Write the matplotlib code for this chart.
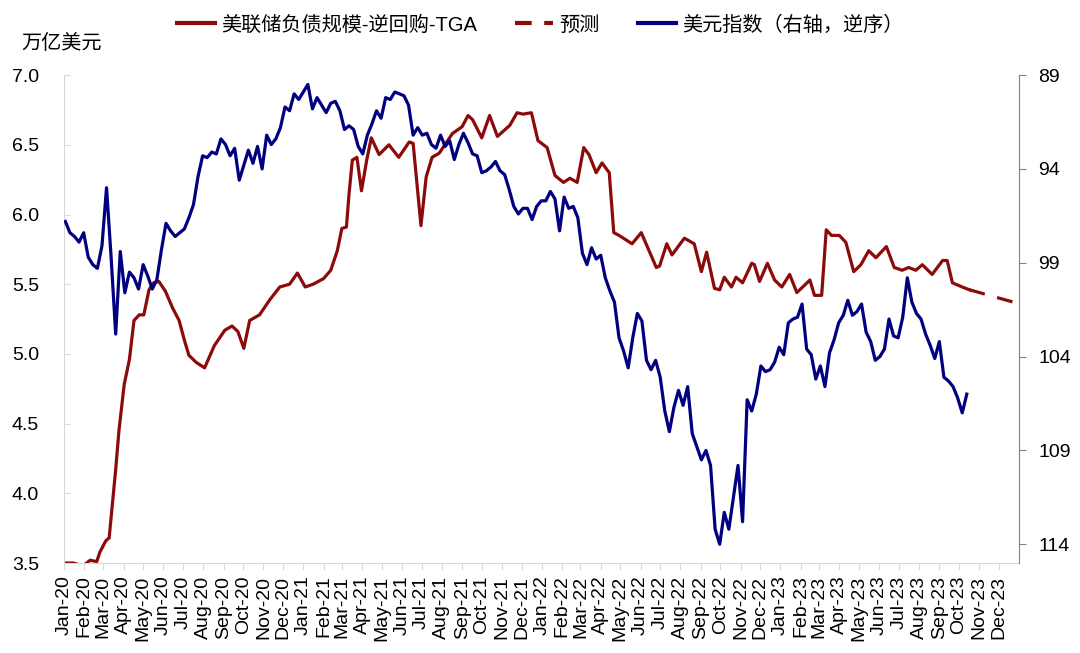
import pandas as pd
import matplotlib
matplotlib.use("Agg")
import matplotlib.pyplot as plt
import matplotlib.dates as mdates
from matplotlib.lines import Line2D

plt.rcParams["font.family"] = ["Liberation Sans", "Noto Sans CJK SC", "DejaVu Sans"]

RED = "#8B0A0A"
BLUE = "#000080"

# Fed balance sheet - RRP - TGA (trillion USD)
liq_dates = [
    "2020-01-03", "2020-01-15", "2020-01-30", "2020-02-10", "2020-02-20", "2020-02-25",
    "2020-03-05", "2020-03-10", "2020-03-20", "2020-03-25", "2020-04-02", "2020-04-10",
    "2020-04-17", "2020-04-25", "2020-05-02", "2020-05-10", "2020-05-17", "2020-05-25",
    "2020-06-04", "2020-06-15", "2020-06-25", "2020-07-03", "2020-07-10", "2020-07-21",
    "2020-08-03", "2020-08-18", "2020-09-03", "2020-09-14", "2020-09-23", "2020-10-02",
    "2020-10-11", "2020-10-26", "2020-11-11", "2020-11-26", "2020-12-11", "2020-12-23",
    "2021-01-04", "2021-01-16", "2021-02-01", "2021-02-12", "2021-02-22", "2021-03-01",
    "2021-03-08", "2021-03-12", "2021-03-17", "2021-03-24", "2021-03-31", "2021-04-08",
    "2021-04-15", "2021-04-27", "2021-05-12", "2021-05-27", "2021-06-12", "2021-06-18",
    "2021-06-30", "2021-07-08", "2021-07-17", "2021-07-28", "2021-08-17", "2021-09-01",
    "2021-09-10", "2021-09-17", "2021-10-01", "2021-10-13", "2021-10-25", "2021-11-13",
    "2021-11-24", "2021-12-03", "2021-12-16", "2021-12-26", "2022-01-09", "2022-01-21",
    "2022-02-03", "2022-02-13", "2022-02-24", "2022-03-06", "2022-03-14", "2022-03-25",
    "2022-04-03", "2022-04-14", "2022-04-21", "2022-04-29", "2022-05-19", "2022-06-02",
    "2022-06-25", "2022-06-30", "2022-07-11", "2022-07-19", "2022-08-07", "2022-08-22",
    "2022-09-02", "2022-09-10", "2022-09-22", "2022-09-30", "2022-10-07", "2022-10-18",
    "2022-10-25", "2022-11-04", "2022-11-18", "2022-11-22", "2022-11-30", "2022-12-12",
    "2022-12-23", "2023-01-03", "2023-01-15", "2023-01-26", "2023-02-04", "2023-02-15",
    "2023-02-22", "2023-03-05", "2023-03-12", "2023-03-20", "2023-04-01", "2023-04-11",
    "2023-04-23", "2023-05-04", "2023-05-16", "2023-05-27", "2023-06-12", "2023-06-24",
    "2023-07-06", "2023-07-16", "2023-07-27", "2023-08-06", "2023-08-21", "2023-09-06",
    "2023-09-13", "2023-09-21", "2023-10-06", "2023-10-17",
]
liq_vals = [
    3.50, 3.50, 3.48, 3.52, 3.51, 3.58,
    3.66, 3.68, 4.17, 4.45, 4.78, 4.96,
    5.24, 5.28, 5.28, 5.46, 5.51, 5.52,
    5.45, 5.33, 5.24, 5.10, 4.99, 4.94,
    4.90, 5.06, 5.17, 5.20, 5.16, 5.04,
    5.24, 5.28, 5.39, 5.48, 5.50, 5.58,
    5.48, 5.50, 5.54, 5.60, 5.74, 5.90,
    5.91, 6.15, 6.39, 6.41, 6.17, 6.39,
    6.55, 6.43, 6.50, 6.41, 6.52, 6.51,
    5.92, 6.27, 6.41, 6.44, 6.58, 6.63,
    6.71, 6.68, 6.55, 6.71, 6.56, 6.64,
    6.73, 6.72, 6.73, 6.53, 6.48, 6.28,
    6.23, 6.26, 6.23, 6.48, 6.43, 6.30,
    6.37, 6.30, 5.87, 5.85, 5.79, 5.87,
    5.62, 5.63, 5.79, 5.71, 5.83, 5.79,
    5.59, 5.73, 5.47, 5.46, 5.55, 5.48,
    5.55, 5.51, 5.65, 5.64, 5.52, 5.65,
    5.53, 5.48, 5.57, 5.44, 5.48, 5.53,
    5.42, 5.42, 5.89, 5.85, 5.85, 5.80,
    5.59, 5.64, 5.74, 5.69, 5.77, 5.62,
    5.60, 5.62, 5.60, 5.64, 5.57, 5.67,
    5.67, 5.51, 5.48, 5.46,
]

# forecast
fc_dates = ["2023-10-17", "2024-01-01"]
fc_vals = [5.46, 5.36]

# US dollar index, weekly (Fridays from 2020-01-03)
dxy_2020 = [96.8, 97.4, 97.6, 97.9, 97.4,
            98.7, 99.1, 99.3, 98.1,
            95.0, 98.7, 102.8, 98.4,
            100.6, 99.5, 99.8, 100.4,
            99.1, 99.7, 100.4, 99.9, 98.3,
            96.9, 97.3, 97.6, 97.4,
            97.2, 96.6, 95.9, 94.4, 93.3,
            93.4, 93.1, 93.2, 92.4,
            92.7, 93.3, 92.9, 94.6,
            93.8, 93.0, 93.7, 92.8, 94.0,
            92.2, 92.7, 92.4, 91.8,
            90.7, 90.9, 90.0, 90.3]
dxy_2021 = [89.9, 89.5, 90.8, 90.2, 90.6,
            91.0, 90.5, 90.4, 90.9,
            91.9, 91.7, 91.9, 92.8,
            93.2, 92.2, 91.6, 90.9, 91.3,
            90.2, 90.3, 89.9, 90.0,
            90.1, 90.6, 92.2, 91.8,
            92.2, 92.1, 92.7, 92.9, 92.2,
            92.8, 92.5, 93.5, 92.7,
            92.1, 92.6, 93.2, 93.3,
            94.2, 94.1, 93.9, 93.6, 94.1,
            94.3, 95.1, 96.0, 96.4,
            96.1, 96.1, 96.7, 96.0, 95.7]
dxy_2022 = [95.7, 95.2, 95.6, 97.3,
            95.5, 96.1, 96.0, 96.6,
            98.5, 99.1, 98.2, 98.8,
            98.6, 99.8, 100.5, 101.1, 103.0,
            103.7, 104.6, 103.0, 101.7,
            102.1, 104.2, 104.7, 104.2,
            105.1, 106.9, 108.0, 106.7, 105.8,
            106.6, 105.6, 108.1, 108.8,
            109.5, 109.0, 109.8, 113.2, 114.0,
            112.3, 113.2, 111.5, 109.8,
            112.8, 106.3, 106.9, 106.0,
            104.5, 104.8, 104.7, 104.3, 103.5]
dxy_2023 = [103.9, 102.2, 102.0, 101.9,
            101.2, 103.6, 103.9, 105.2,
            104.5, 105.6, 103.8, 103.1, 102.2,
            101.8, 101.0, 101.8, 101.6,
            101.2, 102.7, 103.2, 104.2,
            104.0, 103.6, 102.0, 102.9, 103.0,
            101.9, 99.8, 101.1, 101.7,
            102.0, 102.8, 103.4, 104.1,
            103.2, 105.1, 105.3, 105.6, 106.2,
            107.0, 106.0]
dxy = dxy_2020 + dxy_2021 + dxy_2022 + dxy_2023
dxy_dates = pd.date_range("2020-01-03", periods=len(dxy), freq="W-FRI")

fig = plt.figure(figsize=(10.8, 6.53), dpi=100)
ax = fig.add_axes([0.0593, 0.1378, 0.8843, 0.7472])
ax2 = ax.twinx()

ax.plot(pd.to_datetime(liq_dates), liq_vals, color=RED, lw=2.3, solid_joinstyle="round")
ax.plot(pd.to_datetime(fc_dates), fc_vals, color=RED, lw=2.3, ls=(0, (5, 4)))
ax2.plot(dxy_dates, dxy, color=BLUE, lw=2.3, solid_joinstyle="round")

ax.set_xlim(pd.Timestamp("2020-01-01"), pd.Timestamp("2024-01-01"))
ax.set_ylim(3.5, 7.0)
ax.set_yticks([3.5, 4.0, 4.5, 5.0, 5.5, 6.0, 6.5, 7.0])
ax.yaxis.set_major_formatter(plt.FormatStrFormatter("%.1f"))
ax2.set_ylim(115, 89)
ax2.set_yticks([89, 94, 99, 104, 109, 114])

ax.set_xticks(pd.date_range("2020-01-01", "2023-12-01", freq="MS"))
ax.xaxis.set_major_formatter(mdates.DateFormatter("%b-%y"))
for lab in ax.get_xticklabels():
    lab.set_rotation(90)

for a in (ax, ax2):
    a.spines["top"].set_visible(False)
ax.spines["left"].set_color("#d9d9d9")
ax.spines["bottom"].set_color("#d9d9d9")
ax.spines["right"].set_visible(False)
ax2.spines["left"].set_visible(False)
ax2.spines["bottom"].set_visible(False)
ax2.spines["right"].set_color("#808080")

ax.tick_params(axis="x", direction="out", length=5, color="#d9d9d9", labelsize=14, pad=4)
ax.tick_params(axis="y", direction="in", length=4, color="#d9d9d9", labelsize=14, pad=18)
ax2.tick_params(axis="y", direction="out", length=5, color="#808080", labelsize=14, pad=9)

fig.text(0.02, 0.934, "万亿美元", fontsize=14.5, va="center")

handles = [
    Line2D([], [], color=RED, lw=3),
    Line2D([], [], color=RED, lw=3, ls=(0, (4, 3))),
    Line2D([], [], color=BLUE, lw=3),
]
labels = ["美联储负债规模-逆回购-TGA", "预测", "美元指数（右轴，逆序）"]
fig.legend(handles, labels, loc="center", bbox_to_anchor=(0.5, 0.962), ncol=3,
           frameon=False, fontsize=14.5, handlelength=1.9, handletextpad=0.3,
           columnspacing=1.9)

fig.savefig("out.png", dpi=100)
